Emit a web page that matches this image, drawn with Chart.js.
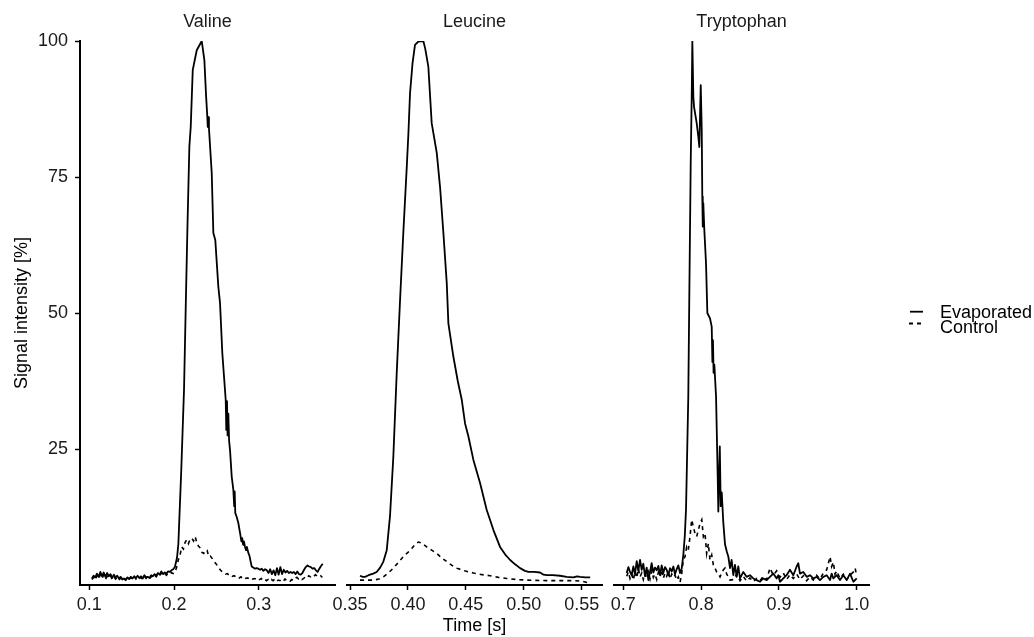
<!DOCTYPE html>
<html>
<head>
<meta charset="utf-8">
<title>Signal intensity</title>
<script src="https://cdn.jsdelivr.net/npm/chart.js@4"></script>
<style>
  body { margin: 0; background: #fff; }
  #wrap { position: relative; width: 1034px; height: 637px; }
  #wrap canvas { position: absolute; left: 0; top: 0; }
  #keys { position: absolute; left: 900px; top: 300px; }
  .lab { position: absolute; left: 940px; font: 18px "Liberation Sans", Arial, sans-serif; line-height: 16px; color: #000; white-space: nowrap; }
</style>
</head>
<body>
<div id="wrap">
  <canvas id="valine" width="1034" height="637"></canvas>
  <canvas id="leucine" width="1034" height="637"></canvas>
  <canvas id="tryptophan" width="1034" height="637"></canvas>
  <svg id="keys" width="30" height="30">
    <line x1="10" y1="11.7" x2="23" y2="11.7" stroke="#000" stroke-width="1.8"/>
    <line x1="9" y1="23.5" x2="23" y2="23.5" stroke="#000" stroke-width="1.8" stroke-dasharray="4 4"/>
  </svg>
  <div class="lab" style="top:304px">Evaporated</div>
  <div class="lab" style="top:319px">Control</div>
</div>
<script>
// [time (s), signal (%)]
var valineEvaporated = [
  [0.103,1.2],[0.105,1.7],[0.107,1.4],[0.109,2.1],[0.111,1.5],[0.113,2.4],[0.115,1.6],[0.117,2.3],[0.119,1.5],[0.121,2.2],
  [0.123,1.6],[0.125,2.0],[0.127,1.3],[0.129,1.9],[0.131,1.4],[0.133,1.7],[0.135,1.2],[0.137,1.5],[0.139,1.0],[0.141,1.2],
  [0.143,1.0],[0.145,1.4],[0.147,1.1],[0.149,1.5],[0.151,1.2],[0.153,1.6],[0.155,1.3],[0.157,1.7],[0.159,1.3],[0.161,1.6],
  [0.163,1.2],[0.165,1.8],[0.167,1.4],[0.169,1.5],[0.171,1.3],[0.173,1.8],[0.175,1.6],[0.177,2.0],[0.179,1.7],[0.181,2.2],
  [0.183,1.9],[0.185,2.5],[0.187,2.0],[0.189,2.3],[0.191,2.1],[0.193,2.5],[0.195,2.4],[0.197,2.7],[0.199,2.9],[0.201,3.3],
  [0.2035,5.0],[0.2051,7.5],[0.2085,21],[0.2118,36],[0.2142,54],[0.2160,67],[0.2181,80.6],[0.2197,84.2],[0.2221,94.7],[0.2268,98.3],
  [0.2327,100],[0.2358,96.5],[0.2378,90],[0.2393,86],[0.2398,84.2],[0.2405,86],[0.2412,84],[0.2445,75.7],[0.2464,64.7],[0.2487,63.4],
  [0.2523,54.8],[0.2543,51.8],[0.2570,42.6],[0.2610,34],[0.2617,28.5],[0.2625,33.8],[0.2632,27.5],[0.2641,31.5],[0.2650,26.5],[0.2661,24.8],
  [0.2681,19.9],[0.2700,17.5],[0.2710,14.5],[0.2716,17.2],[0.2723,13.2],[0.2740,12.5],[0.2759,11.4],[0.2780,9.5],[0.2795,8.0],[0.2805,8.6],
  [0.2815,7.4],[0.2825,8.0],[0.2838,7.0],[0.2850,6.4],[0.2860,7.0],[0.2877,5.9],[0.2890,5.4],[0.2903,4.4],[0.2917,3.4],[0.2935,3.2],
  [0.2955,3.0],[0.2975,3.1],[0.2995,3.0],[0.3015,2.8],[0.3035,3.0],[0.3055,2.6],[0.3075,2.9],[0.3095,2.7],[0.3115,2.2],[0.3135,2.9],
  [0.3155,2.0],[0.3175,2.7],[0.3195,1.8],[0.3215,3.1],[0.3235,1.9],[0.3255,3.3],[0.3275,2.0],[0.3295,2.8],[0.3315,2.3],[0.3335,2.6],
  [0.3355,2.2],[0.3375,2.4],[0.3395,2.2],[0.3415,2.4],[0.3435,2.0],[0.3455,2.5],[0.3475,2.0],[0.3495,1.9],[0.3515,2.2],[0.3535,2.8],
  [0.3555,3.3],[0.3575,3.6],[0.3595,3.4],[0.3615,3.3],[0.3635,3.0],[0.3655,3.1],[0.3675,2.7],[0.3695,2.4],[0.3715,3.0],[0.3735,3.5],
  [0.3755,3.9]
];
var valineControl = [
  [0.103,1.0],[0.105,1.4],[0.107,0.9],[0.109,1.7],[0.111,1.1],[0.113,1.9],[0.115,1.2],[0.117,1.8],[0.119,1.0],[0.121,1.6],
  [0.123,1.3],[0.125,1.7],[0.127,1.0],[0.129,1.5],[0.131,1.1],[0.133,1.4],[0.135,0.9],[0.137,1.3],[0.139,0.8],[0.141,1.1],
  [0.143,0.9],[0.145,1.3],[0.147,1.0],[0.149,1.4],[0.151,1.0],[0.153,1.5],[0.155,1.1],[0.157,1.5],[0.159,1.2],[0.161,1.4],
  [0.163,1.0],[0.165,1.6],[0.167,1.2],[0.169,1.4],[0.171,1.1],[0.173,1.6],[0.175,1.4],[0.177,1.8],[0.179,1.5],[0.181,2.0],
  [0.183,1.7],[0.185,2.2],[0.187,1.8],[0.189,2.1],[0.191,1.8],[0.193,2.2],[0.195,2.0],[0.197,2.3],[0.199,2.1],[0.201,2.3],
  [0.203,3.2],[0.205,4.6],[0.207,5.4],[0.209,7.0],[0.211,6.6],[0.213,7.8],[0.215,8.3],[0.217,7.6],[0.219,8.4],[0.221,8.6],
  [0.223,8.1],[0.225,8.9],[0.227,7.7],[0.229,7.1],[0.231,6.8],[0.233,6.0],[0.235,5.8],[0.237,6.4],[0.239,6.4],[0.241,5.2],
  [0.243,5.3],[0.245,4.9],[0.247,4.4],[0.249,4.0],[0.251,3.6],[0.253,3.1],[0.255,2.7],[0.257,2.4],[0.259,2.2],[0.261,2.0],
  [0.263,2.1],[0.265,1.8],[0.267,1.9],[0.269,1.6],[0.271,1.7],[0.273,1.5],[0.275,1.6],[0.277,1.3],[0.279,1.5],[0.281,1.2],
  [0.283,1.4],[0.285,1.2],[0.287,1.3],[0.289,1.1],[0.291,1.3],[0.293,1.1],[0.295,1.2],[0.297,1.1],[0.299,1.3],[0.301,1.0],
  [0.303,1.2],[0.305,0.9],[0.307,1.1],[0.309,0.8],[0.311,1.0],[0.313,0.7],[0.315,1.0],[0.317,0.8],[0.319,1.1],[0.321,0.7],
  [0.323,0.9],[0.325,0.8],[0.327,1.0],[0.329,0.7],[0.331,1.1],[0.333,0.8],[0.335,0.9],[0.337,0.7],[0.339,1.0],[0.341,0.8],
  [0.343,1.2],[0.345,1.4],[0.347,1.1],[0.349,1.3],[0.351,1.0],[0.353,1.2],[0.355,1.5],[0.357,1.3],[0.359,1.7],[0.361,1.5],
  [0.363,1.8],[0.365,1.6],[0.367,1.9],[0.369,1.6],[0.371,1.5],[0.373,1.7],[0.375,1.4]
];
var leucineEvaporated = [
  [0.3586,1.7],[0.3610,1.5],[0.3630,1.5],[0.3660,1.8],[0.3700,2.1],[0.3730,2.4],[0.3760,3.2],[0.3788,4.3],[0.3817,6.4],[0.3845,12.6],
  [0.3874,23.6],[0.3903,38.9],[0.3932,52.4],[0.3960,64.7],[0.3990,76.9],[0.4004,83],[0.4018,90.4],[0.4040,96],[0.4061,99.3],[0.4090,99.9],
  [0.4133,100],[0.4150,98.5],[0.4176,95.3],[0.4205,84.9],[0.4249,79.4],[0.4277,73.2],[0.4306,64.7],[0.4335,55.5],[0.4349,48.1],[0.4392,42],
  [0.4430,37.5],[0.4465,34],[0.4493,29.7],[0.4522,27.3],[0.4565,23],[0.4623,18.7],[0.4680,13.8],[0.4738,10.1],[0.4795,7],[0.4840,5.6],
  [0.4882,4.6],[0.4925,3.8],[0.4968,3.1],[0.5010,2.6],[0.5040,2.4],[0.5090,2.4],[0.5141,2.3],[0.5170,1.9],[0.5199,1.8],[0.5250,1.8],
  [0.5313,1.7],[0.5370,1.5],[0.5428,1.4],[0.5460,1.6],[0.5486,1.5],[0.5530,1.4],[0.5573,1.4]
];
var leucineControl = [
  [0.3586,0.9],[0.3650,0.9],[0.3701,0.9],[0.3750,1.1],[0.3788,1.5],[0.3830,2.2],[0.3874,3.1],[0.3920,4.2],[0.3960,5.2],[0.4000,6.0],
  [0.4033,6.7],[0.4060,7.4],[0.4090,7.9],[0.4120,7.7],[0.4162,7.0],[0.4205,6.4],[0.4249,5.8],[0.4290,5.0],[0.4335,4.3],[0.4380,3.6],
  [0.4421,3.1],[0.4490,2.6],[0.4565,2.2],[0.4640,1.9],[0.4709,1.7],[0.4780,1.4],[0.4853,1.2],[0.4940,1.0],[0.5026,0.9],[0.5110,0.85],
  [0.5199,0.8],[0.5310,0.8],[0.5428,0.8],[0.5500,0.7],[0.5573,0.3]
];
var tryptophanEvaporated = [
  [0.7043,2.2],[0.7065,3.3],[0.7086,2.4],[0.7107,1.8],[0.7129,3.4],[0.7150,2.0],[0.7172,4.4],[0.7193,2.6],[0.7215,4.6],[0.7236,2.8],
  [0.7257,3.9],[0.7279,1.6],[0.7300,3.2],[0.7322,0.9],[0.7343,2.4],[0.7364,4.0],[0.7386,2.3],[0.7407,3.2],[0.7429,2.7],[0.7450,3.5],
  [0.7472,1.8],[0.7493,3.6],[0.7514,2.2],[0.7536,3.3],[0.7557,2.8],[0.7579,1.8],[0.7600,3.1],[0.7622,2.5],[0.7643,3.4],[0.7664,2.0],
  [0.7686,2.9],[0.7707,3.6],[0.7729,2.2],[0.7750,3.0],[0.7771,5.5],[0.7790,9.0],[0.7806,14],[0.7835,34.6],[0.7848,53],[0.7866,77.5],
  [0.7879,89.8],[0.7887,100],[0.7900,89.8],[0.7909,87.9],[0.7943,84.9],[0.7964,82.4],[0.7977,80.5],[0.7995,91.9],[0.8008,83.6],[0.8015,71.4],
  [0.8021,65.9],[0.8028,70.2],[0.8041,65.3],[0.8063,59.1],[0.8080,50],[0.8114,49],[0.8136,47.5],[0.8145,41],[0.8152,45],[0.8160,39],
  [0.8170,40.5],[0.8192,34.6],[0.8213,20],[0.8221,13.5],[0.8240,25.5],[0.8252,14.5],[0.8265,17],[0.8285,11.5],[0.8307,7.5],[0.8329,6.2],
  [0.8350,5.2],[0.8371,3.1],[0.8392,4.6],[0.8414,1.8],[0.8435,3.7],[0.8457,1.5],[0.8478,3.4],[0.8500,1.2],[0.8542,2.4],[0.8585,1.5],
  [0.8628,1.8],[0.8671,1.2],[0.8714,0.9],[0.8757,0.6],[0.8799,1.2],[0.8842,0.9],[0.8885,1.5],[0.8928,2.1],[0.8971,1.2],[0.8992,1.8],
  [0.9014,0.6],[0.9057,1.2],[0.9099,1.8],[0.9142,2.8],[0.9185,1.8],[0.9228,3.4],[0.9249,4.0],[0.9271,2.1],[0.9314,2.4],[0.9357,1.5],
  [0.9399,1.8],[0.9442,1.2],[0.9485,1.5],[0.9528,0.9],[0.9571,1.5],[0.9614,1.8],[0.9657,0.9],[0.9678,2.1],[0.9700,1.2],[0.9743,1.8],
  [0.9785,0.9],[0.9828,1.8],[0.9871,0.9],[0.9914,2.1],[0.9957,0.6],[1.0000,1.2]
];
var tryptophanControl = [
  [0.7043,1.6],[0.7065,2.4],[0.7086,1.2],[0.7107,2.0],[0.7129,0.9],[0.7150,2.5],[0.7172,1.3],[0.7193,3.0],[0.7215,1.5],[0.7236,2.2],
  [0.7257,1.0],[0.7279,2.1],[0.7300,1.3],[0.7322,2.4],[0.7343,1.1],[0.7364,2.6],[0.7386,1.4],[0.7407,2.0],[0.7429,1.0],[0.7450,2.3],
  [0.7472,1.5],[0.7493,2.8],[0.7514,1.2],[0.7536,2.2],[0.7557,1.6],[0.7579,2.5],[0.7600,1.1],[0.7622,2.0],[0.7643,1.4],[0.7664,1.8],
  [0.7686,0.9],[0.7707,1.5],[0.7729,0.5],[0.7750,2.0],[0.7771,4.6],[0.7793,5.2],[0.7814,7.0],[0.7835,6.4],[0.7857,8.9],[0.7879,12.0],
  [0.7900,10.7],[0.7921,9.5],[0.7943,8.9],[0.7964,10.1],[0.7986,11.3],[0.8008,12.0],[0.8029,8.9],[0.8050,9.5],[0.8071,5.8],[0.8093,7.6],
  [0.8114,4.6],[0.8136,5.5],[0.8157,3.7],[0.8179,3.1],[0.8200,2.4],[0.8221,2.1],[0.8243,1.5],[0.8264,2.2],[0.8286,2.8],[0.8307,3.1],
  [0.8329,2.0],[0.8350,1.5],[0.8371,0.9],[0.8414,1.0],[0.8457,2.0],[0.8500,0.8],[0.8542,1.6],[0.8585,0.7],[0.8628,1.3],[0.8671,0.6],
  [0.8714,1.2],[0.8757,0.8],[0.8799,1.6],[0.8842,1.0],[0.8885,3.1],[0.8928,1.8],[0.8971,2.6],[0.9014,1.4],[0.9057,2.2],[0.9099,1.0],
  [0.9142,1.9],[0.9185,1.2],[0.9228,2.0],[0.9271,1.0],[0.9314,1.7],[0.9357,0.8],[0.9399,1.5],[0.9442,0.9],[0.9485,1.8],[0.9528,1.1],
  [0.9571,2.2],[0.9614,2.8],[0.9636,4.0],[0.9657,5.2],[0.9678,3.4],[0.9700,4.2],[0.9721,2.0],[0.9743,2.6],[0.9785,1.2],[0.9828,2.0],
  [0.9871,1.0],[0.9914,1.8],[0.9957,2.4],[0.9980,3.1],[1.0000,1.6]
];

var valineTicks = [0.1, 0.2, 0.3];
var leucineTicks = [0.35, 0.40, 0.45, 0.50, 0.55];
var tryptophanTicks = [0.7, 0.8, 0.9, 1.0];
var yTicks = [25, 50, 75, 100];

Chart.defaults.font.family = '"Liberation Sans", Arial, sans-serif';
Chart.defaults.font.size = 18;
Chart.defaults.color = '#1a1a1a';

function toPoints(list) {
  return list.map(function (p) { return {x: p[0], y: p[1]}; });
}

function fixedTicks(values) {
  return function (scale) {
    scale.ticks = values.map(function (v) { return {value: v}; });
  };
}

// one facet per canvas; all canvases are stacked on top of each other
function makePanel(id, title, evap, ctrl, xMin, xMax, xTicks, digits, padLeft, padRight, showY, showXTitle) {
  var axisGrid = {drawOnChartArea: false, tickLength: 5, tickColor: '#000', tickWidth: 1.5};
  var axisBorder = {display: true, color: '#000', width: 2};
  var yScale = {display: false, min: 0, max: 100};
  if (showY) {
    yScale = {
      display: true, min: 0, max: 100,
      afterBuildTicks: fixedTicks(yTicks),
      afterFit: function (s) { s.width = 80; },
      ticks: {padding: 7},
      grid: axisGrid,
      border: axisBorder,
      title: {display: true, text: 'Signal intensity [%]', color: '#000', padding: {top: 11.2, bottom: 0}}
    };
  }
  return new Chart(document.getElementById(id).getContext('2d'), {
    type: 'line',
    data: {
      datasets: [
        {label: 'Evaporated', data: toPoints(evap), borderColor: '#000', borderWidth: 1.8,
         pointRadius: 0, borderJoinStyle: 'round', fill: false},
        {label: 'Control', data: toPoints(ctrl), borderColor: '#000', borderWidth: 1.6,
         borderDash: [4, 4], pointRadius: 0, fill: false}
      ]
    },
    options: {
      responsive: false,
      animation: false,
      events: [],
      layout: {padding: {left: padLeft, right: padRight, top: 0, bottom: 0}},
      plugins: {
        legend: {display: false},
        tooltip: {enabled: false},
        title: {display: true, text: title, fullSize: false, color: '#1a1a1a',
                font: {size: 18, weight: 'normal'}, padding: {top: 11.2, bottom: 8.2}}
      },
      scales: {
        x: {
          type: 'linear', min: xMin, max: xMax,
          afterBuildTicks: fixedTicks(xTicks),
          afterFit: function (s) { s.height = 52; },
          ticks: {padding: 4, maxRotation: 0, autoSkip: false,
                  callback: function (v) { return Number(v).toFixed(digits); }},
          grid: axisGrid,
          border: axisBorder,
          title: {display: showXTitle, text: 'Time [s]', color: '#000', padding: {top: 0, bottom: 0}}
        },
        y: yScale
      }
    }
  });
}

makePanel('valine', 'Valine', valineEvaporated, valineControl, 0.089, 0.390, valineTicks, 1, 0, 699, true, false);
makePanel('leucine', 'Leucine', leucineEvaporated, leucineControl, 0.3474, 0.5675, leucineTicks, 2, 347, 432, false, true);
makePanel('tryptophan', 'Tryptophan', tryptophanEvaporated, tryptophanControl, 0.688, 1.0158, tryptophanTicks, 1, 614, 165, false, false);
</script>
</body>
</html>
